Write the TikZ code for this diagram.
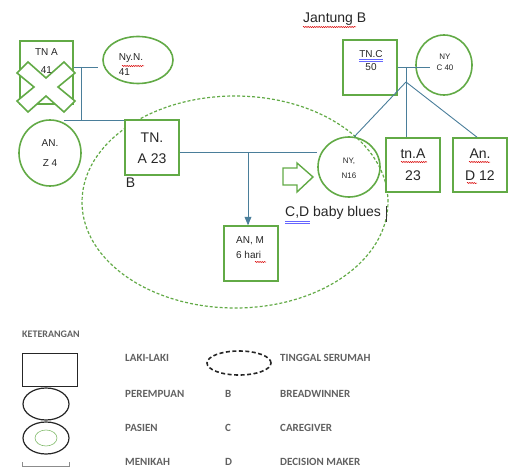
\documentclass[tikz,border=0pt]{standalone}
\usepackage{fontspec}
\setmainfont{Liberation Sans}
\newfontfamily\legendfont{Carlito}
\usepackage{xcolor}
\usepackage{tikz}
\usetikzlibrary{arrows,positioning,decorations.pathmorphing}
\usetikzlibrary{shapes.geometric}
\definecolor{gengreen}{RGB}{98,170,70}
\definecolor{genblue}{RGB}{74,126,154}
\newcommand{\fs}[2]{\fontsize{#1}{#2}\selectfont}
\tikzset{
  male/.style={draw=gengreen,line width=1.6pt,fill=white,inner sep=0pt},
  female/.style={draw=gengreen,line width=1.6pt,ellipse,fill=white,inner sep=0pt},
  kin/.style={draw=genblue,line width=0.9pt},
  txt/.style={align=center,text=black!85,inner sep=0pt},
  squig/.style={draw=red!85!black,line width=0.5pt,decorate,
    decoration={snake,segment length=2.2pt,amplitude=0.6pt}},
  legtxt/.style={font=\legendfont\bfseries\fs{11}{12},text=black!62,anchor=west,inner sep=0pt}
}
\begin{document}
\begin{tikzpicture}[x=1pt,y=-1pt]
\useasboundingbox (0,0) rectangle (508,468);
%%the shared household
\draw[gengreen,line width=1.2pt,dash pattern=on 3pt off 2pt] (235,202) ellipse (153pt and 106pt);
%%first generation, left side
\coordinate (m1) at (81,67);
\coordinate (m1e) at (98,67);
\coordinate (k1l) at (64,120);
\coordinate (k1r) at (147,120);
\draw[kin] (k1l) -- (k1r);
\draw[kin] (m1) -- (m1 |- k1l);
\node[male,minimum width=53pt,minimum height=63pt] (tna) at (46.5,72.5) {};
\draw[kin] (tna.east |- m1) -- (m1e);
\node[female,minimum width=70pt,minimum height=47pt] (nyn) at (138,60) {};
\node[txt,font=\fs{10}{15},align=left] (nyn-t) at (131,65) {Ny.N.\\41};
%%deceased cross
\draw[gengreen,line width=1.6pt,fill=white,shift={(46,87)}]
  (-29,-14) -- (-18,-25) -- (0,-9) -- (18,-25) -- (29,-14) -- (12,0)
  -- (29,14) -- (18,25) -- (0,9) -- (-18,25) -- (-29,14) -- (-12,0) -- cycle;
\node[txt,font=\fs{10}{18}] (tna-t) at (46.5,61) {TN A\\41};
\node[female,minimum width=62pt,minimum height=66pt] (anz) at (50,153) {};
\node[txt,font=\fs{10}{20}] (anz-t) at (50,153) {AN.\\Z 4};
%%patient household
\node[male,minimum width=54pt,minimum height=55pt] (tna23) at (152,147.5) {};
\node[txt,font=\fs{14}{21}] (tna23-t) at (152,148) {TN.\\A 23};
\node[txt,font=\fs{14}{14}] (bw) at (130.5,183) {B};
\node[female,fill=none,minimum width=62pt,minimum height=60pt] (ny16) at (349,167) {};
\node[txt,font=\fs{8}{15}] (ny16-t) at (349,168) {NY,\\N16};
\draw[kin] (tna23.east |- 0,152) -- (ny16.west |- 0,152);
\node[male,minimum width=54pt,minimum height=55pt] (anm) at (251,253.5) {};
\node[txt,font=\fs{10}{15},align=left] (anm-t) at (250,248) {AN, M\\6 hari};
\draw[kin,-triangle 45] (248,152) -- (anm.north -| 248,0);
\draw[gengreen,line width=1.4pt,fill=white]
  (283,168) -- (297,168) -- (297,163) -- (313,177) -- (297,192)
  -- (297,185) -- (283,185) -- cycle;
\node[txt,font=\fs{14}{14},anchor=west] (cd) at (285,213) {C,D baby blues};
\draw[black!80,line width=0.8pt] (386,206) -- (386,222);
%%second family, right side
\node[txt,font=\fs{14}{14},anchor=west] (jant) at (303,19) {Jantung B};
\node[male,minimum width=54pt,minimum height=55pt] (tnc) at (370,67.5) {};
\node[txt,font=\fs{10}{13}] (tnc-t) at (371,61) {TN.C\\50};
\node[female,minimum width=56pt,minimum height=60pt] (nyc) at (444,65) {};
\node[txt,font=\fs{8}{11}] (nyc-t) at (445,62) {NY\\C 40};
\coordinate (m3) at (406,67);
\coordinate (m3e) at (430,67);
\coordinate (m3d) at (406,82);
\draw[kin] (tnc.east |- m3) -- (m3e);
\draw[kin] (m3) -- (m3d);
\node[male,minimum width=54pt,minimum height=54pt] (tna2) at (413,165) {};
\node[txt,font=\fs{14}{22}] (tna2-t) at (413,165) {tn.A\\23};
\node[male,minimum width=54pt,minimum height=54pt] (and12) at (480,165) {};
\node[txt,font=\fs{14}{22}] (and12-t) at (480,165) {An.\\D 12};
\draw[kin] (m3d) -- (ny16.80);
\draw[kin] (m3d) -- (m3d |- tna2.north);
\draw[kin] (m3d) -- ([xshift=-3pt]and12.north);
%%spelling marks
\draw[squig] (122,66) -- (144,66);
\draw[squig] (303,27) -- (356,27);
\draw[squig] (401,162) -- (427,162);
\draw[squig] (469,162) -- (490,162);
\draw[squig] (467,183) -- (477,183);
\draw[squig] (255,262) -- (266,262);
\draw[blue!60,line width=0.4pt] (359,59) -- (383,59) (359,61) -- (383,61);
\draw[blue!60,line width=0.4pt] (285,221) -- (310,221) (285,223) -- (310,223);
%%legend
\node[legtxt,font=\legendfont\bfseries\fs{10}{11}] (ket) at (22,334) {KETERANGAN};
\draw[black!85,line width=1pt] (22,353) rectangle (77,386);
\draw[black!85,line width=1.2pt] (46,404) ellipse (23pt and 16pt);
\draw[black!85,line width=1.2pt] (46,438) ellipse (23pt and 16pt);
\draw[gengreen!80,line width=0.6pt] (46,438) ellipse (11pt and 8pt);
\draw[black!45,line width=0.6pt] (22,462) -- (22,466) -- (69,466) -- (69,462);
\draw[black!85,line width=1.6pt,dash pattern=on 4pt off 2.5pt] (239,363) ellipse (32pt and 12pt);
\node[legtxt] (l1) at (125,358) {LAKI-LAKI};
\node[legtxt] (l2) at (125,394) {PEREMPUAN};
\node[legtxt] (l3) at (125,428) {PASIEN};
\node[legtxt] (l4) at (125,462) {MENIKAH};
\node[legtxt] (r2) at (225,394) {B};
\node[legtxt] (r3) at (225,428) {C};
\node[legtxt] (r4) at (225,462) {D};
\node[legtxt] (d1) at (280,358) {TINGGAL SERUMAH};
\node[legtxt] (d2) at (280,394) {BREADWINNER};
\node[legtxt] (d3) at (280,428) {CAREGIVER};
\node[legtxt] (d4) at (280,462) {DECISION MAKER};
\end{tikzpicture}
\end{document}
